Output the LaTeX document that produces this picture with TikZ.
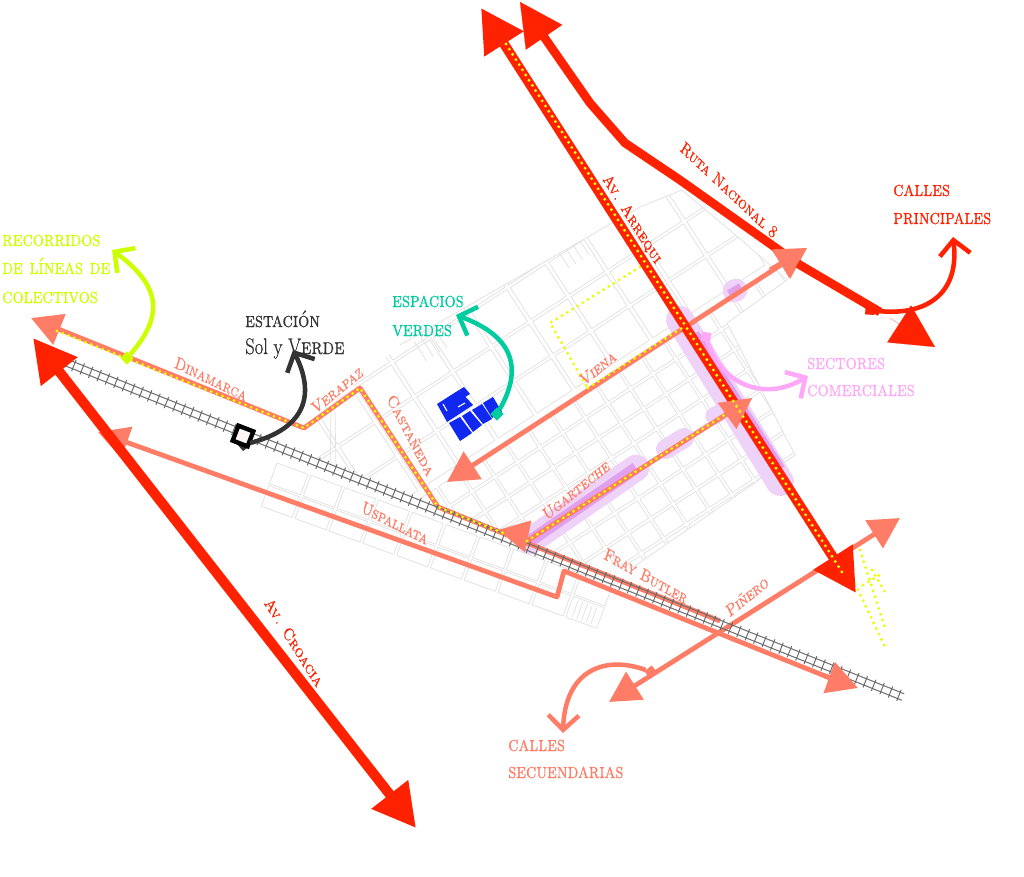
\documentclass[tikz,border=0pt]{standalone}
\usepackage{amsmath}
\usepackage{fontspec}
\usepackage{tikz}
\usetikzlibrary{arrows.meta,calc,positioning}
\newfontfamily\mapa{Latin Modern Roman}[FakeBold=0.7,
    SmallCapsFont={Latin Modern Roman Caps},SmallCapsFeatures={FakeBold=0.7}]
\definecolor{rojo}{RGB}{255, 34, 0}
\definecolor{salmon}{RGB}{255, 124, 102}
\definecolor{amarillo}{RGB}{232, 255, 0}
\definecolor{lima}{RGB}{204, 255, 0}
\definecolor{menta}{RGB}{0, 204, 160}
\definecolor{rosa}{RGB}{255, 168, 248}
\definecolor{grisOscuro}{RGB}{51, 51, 51}
\definecolor{azul}{RGB}{16, 40, 240}
\definecolor{lilaClaro}{RGB}{238, 210, 248}
\definecolor{lila}{RGB}{224, 160, 238}
\definecolor{manzana}{RGB}{224, 224, 224}
\tikzstyle{block}  =[draw=manzana, line width=0.55pt, line join=round]
\tikzstyle{main}   =[rojo, line width=6.5pt, line join=round]
\tikzstyle{second} =[salmon, line width=3.6pt, line join=round]
\tikzstyle{dots}   =[amarillo, line width=2.4pt, line cap=round,
                    line join=round, dash pattern=on 0pt off 4.6pt]
\tikzstyle{curve}  =[line width=3.4pt, line cap=butt]
\tikzstyle{street} =[font=\mapa\fontsize{13}{13}\selectfont\scshape, inner sep=0pt,
                    xscale=0.8]
\tikzstyle{legend} =[font=\mapa\fontsize{16}{16}\selectfont\scshape, inner sep=0pt,
                    anchor=base west, xscale=0.82]
\tikzstyle{start}  =[minimum size=7pt, inner sep=0pt]
\begin{document}
\begin{tikzpicture}[x=0.75pt,y=-0.75pt,
    big/.tip={Triangle[length=32pt,width=33pt]},
    small/.tip={Triangle[length=23pt,width=24pt]},
    barb/.tip={Straight Barb[length=11pt,width=23pt,line width=3.4pt]}]
    \useasboundingbox (0,0) rectangle (1024,877);

    % city blocks
    \begin{scope}
        \clip (300,432) -- (400,345) -- (640,207) -- (682,190) -- (745,243)
            -- (787,280) -- (727,323) -- (795,455) -- (632,568) -- (590,566)
            -- (300,452) -- cycle;
        \begin{scope}[shift={(680,325)},rotate=33]
            \foreach \a in {-400,-373,...,110}
                \foreach \b in {4,28,...,190}
                    \draw [block] (\a+1.5,\b) rectangle ++(24,21);
            \foreach \a in {-400,-354,...,110}
                \foreach \b in {-165,-124,-83,-42}
                    \draw [block] (\a+2,\b) rectangle ++(42,38);
            \foreach \a in {-62,-54,-46,-38,-232,-224,-216,-208}
                \draw [block] (\a,-131) -- (\a,-108);
        \end{scope}
    \end{scope}
    \draw [block] (400,345) -- (640,207) -- (682,190) -- (745,243)
        -- (787,280) -- (727,323) -- (795,455) -- (632,568);
    \begin{scope}[shift={(277,463)},rotate=-20]
        \foreach \a in {0,36,...,330}
            \foreach \b in {0,24}
                \draw [block] (\a,\b) rectangle ++(33,22);
        \foreach \a in {330,335,...,350}
            \draw [block] (\a,26) -- ++(0,18);
    \end{scope}
    \draw [block] (331,412) -- (330,468);
    \draw [block] (335,412) -- (336,470);

    % commercial sectors
    \draw [lilaClaro,line width=20pt,line cap=round] (530,541) -- (636,468);
    \draw [lila,line width=9pt] (530,541) -- (636,468);
    \draw [lilaClaro,line width=15pt,line cap=round] (666,449) -- (684,438);
    \draw [lilaClaro,line width=13pt,line cap=round] (714,416) -- (728,408);
    \draw [lilaClaro,line width=21pt,line cap=round] (680,320) -- (780,482);
    \draw [lila,line width=10pt] (693,335) -- (779,470);
    \draw [lilaClaro,line width=17pt,line cap=round] (734,291) -- (736,290);
    \draw [lila,line width=6pt] (729,294) -- (741,287);

    % bus detours
    \draw [dots] (640,267) -- (550,323) -- (587,387);
    \draw [dots] (860,550) -- (885,628);
    \draw [dots] (850,573) -- (885,647);
    \draw [dots] (863,585) -- (883,573);
    \draw [dots] (872,570) -- (885,592);

    % secondary streets
    \draw [second,{small}-] (31,318) -- (304,428) -- (360,388) -- (438,507)
        -- (720,621);
    \draw [second,{small}-] (98,432) -- (557,597) -- (564,571) -- (835,680);
    \draw [second,{small}-{small}] (447,482) -- (807,248);
    \draw [second] (527,541) -- (730,412);
    \draw [second,{small}-{small}] (609,702) -- (900,518);

    % rail line
    \coordinate (railA) at (65,362);
    \coordinate (railB) at (903,697);
    \draw [gray!90!black,line width=0.8pt,transform canvas={yshift=2.4pt,xshift=0.9pt}]
        (railA) -- (railB);
    \draw [gray!90!black,line width=0.8pt,transform canvas={yshift=-2.4pt,xshift=-0.9pt}]
        (railA) -- (railB);
    \draw [black!60,line width=9pt,dash pattern=on 0.7pt off 6.1pt] (railA) -- (railB);
    \draw [second,-{small}] (825,676) -- (858,688);
    \draw [salmon,line width=0.1pt,-{small}] (527,536) -- (498,530);

    % main streets
    \draw [main,line width=7.3pt,{big}-{big}] (481,8) -- (856,593);
    \draw [main] (535,24) -- (590,103) -- (625,143) -- (680,180) -- (800,265)
        -- (880,312);
    \draw [rojo,line width=0.1pt,{big}-] (520,2) -- (535,24);
    \draw [rojo,line width=0.1pt,-{big}] (890,318) -- (935,347);
    \draw [main,line width=7.5pt,{big}-{big}] (33,338) -- (416,828);
    \draw [second,-{small}] (770,270) -- (807,248);
    \draw [salmon,line width=0.1pt,-{small}] (727,416) -- (752,398);

    % bus lines
    \draw [dots] (57,331) -- (304,428) -- (360,388) -- (438,507) -- (503,533);
    \draw [dots] (588,388) -- (682,328);
    \draw [dots] (527,541) -- (726,414);
    \draw [dots] (506,44) -- (842,572);

    % park and station
    \fill [azul] (437,404) -- (459,390) -- (473,405) -- (447,422) -- cycle;
    \fill [azul] (459,390) -- (464,387) -- (470,394) -- (465,397) -- cycle;
    \fill [azul] (449,423) -- (460,417) -- (472,433) -- (460,441) -- cycle;
    \fill [azul] (462,416) -- (470,411) -- (482,425) -- (473,432) -- cycle;
    \fill [azul] (472,410) -- (482,404) -- (492,419) -- (483,424) -- cycle;
    \fill [azul] (483,403) -- (493,397) -- (502,412) -- (492,418) -- cycle;
    \draw [white,line width=0.8pt] (443,404) -- (447,411);
    \draw [white,line width=0.8pt] (458,407) -- (465,403);

    \fill [grisOscuro] (237,444) -- (250,446) -- (243,451) -- cycle;
    \node (station) [draw=black,fill=red!4,line width=3.3pt,minimum size=12pt,
        inner sep=0pt,rotate=-21] at (243,436) {};

    % notes
    \node (limaStart) [start,fill=lima,rotate=45] at (127,358) {};
    \draw [curve,lima,-{barb}] (limaStart) .. controls (165,315) and (160,285) .. (112,250);
    \draw [curve,grisOscuro,-{barb}] (250,443) .. controls (300,430) and (318,400) .. (293,350);
    \node (mentaStart) [start,fill=menta,rotate=45] at (497,414) {};
    \draw [curve,menta,-{barb}] (mentaStart) .. controls (525,365) and (510,335) .. (456,315);
    \node (rosaStart) [start,fill=rosa,rotate=-10] at (706,337) {};
    \draw [curve,rosa,-{barb}] (rosaStart) .. controls (722,385) and (765,402) .. (808,376);
    \node (rojoStart) [start,fill=rojo,rotate=-3] at (870,310) {};
    \draw [curve,rojo,-{barb}] (rojoStart) .. controls (925,317) and (960,295) .. (953,237);
    \node (salmonStart) [start,fill=salmon,rotate=40] at (651,672) {};
    \draw [curve,salmon,-{barb}] (salmonStart) .. controls (605,655) and (565,670) .. (563,733);

    % street names
    \node (dinamarca) [street,salmon,rotate=-21] at (211,379) {Dinamarca};
    \node (verapaz) [street,salmon,rotate=33] at (337,390) {Verapaz};
    \node (castaneda) [street,salmon,rotate=-57] at (411,435) {Castañeda};
    \node (uspallata) [street,salmon,rotate=-22] at (395,523) {Uspallata};
    \node (fray) [street,salmon,rotate=-24] at (646,576) {Fray Butler};
    \node (pinero) [street,salmon,rotate=33] at (747,596) {Piñero};
    \node (viena) [street,salmon,rotate=33] at (598,368) {Viena};
    \node (ugarteche) [street,salmon,rotate=33] at (576,490) {Ugarteche};
    \node (arrequi) [street,rojo,rotate=-52] at (632,219) {Av. Arrequi};
    \node (ruta) [street,rojo,rotate=-37] at (729,190) {Ruta Nacional 8};
    \node (croacia) [street,rojo,rotate=-52] at (294,642) {Av. Croacia};

    % legend
    \node (rec1) [legend,lima] at (2,246) {recorridos};
    \node (rec2) [legend,lima] at (2,274) {de líneas de};
    \node (rec3) [legend,lima] at (2,303) {colectivos};
    \node (est1) [legend,grisOscuro] at (245,327) {estación};
    \node (est2) [legend,grisOscuro,font=\mapa\fontsize{17}{17}\selectfont] at (245,354) {Sol y V{\scshape erde}};
    \node (esp1) [legend,menta] at (392,307) {espacios};
    \node (esp2) [legend,menta] at (392,336) {verdes};
    \node (sec1) [legend,rosa] at (807,369) {sectores};
    \node (sec2) [legend,rosa] at (807,396) {comerciales};
    \node (cal1) [legend,rojo] at (893,196) {calles};
    \node (cal2) [legend,rojo] at (893,224) {principales};
    \node (cas1) [legend,salmon] at (508,751) {calles};
    \node (cas2) [legend,salmon] at (508,778) {secuendarias};
\end{tikzpicture}
\end{document}
